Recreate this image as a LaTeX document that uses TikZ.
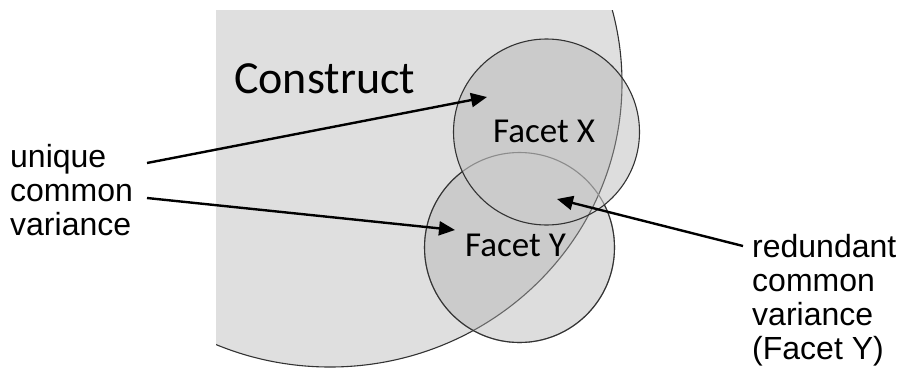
\documentclass[tikz,border=0pt]{standalone}
\usepackage{fontspec}
\setmainfont{Liberation Sans}
\newfontfamily\calib{Carlito}
\usetikzlibrary{arrows.meta}
\definecolor{constr}{HTML}{DFDFDF}
\definecolor{edge}{HTML}{333333}
\definecolor{faint}{HTML}{8C8C8C}
\definecolor{circfill}{HTML}{B0B0B0}
\begin{document}
\begin{tikzpicture}[x=1pt,y=-1pt,
  lbl/.style={font=\fontsize{32}{36}\selectfont, anchor=base west, inner sep=0pt},
  facet/.style={font=\calib\fontsize{35}{40}\selectfont, anchor=base west, inner sep=0pt},
  pointer/.style={line width=2.4pt, -{Triangle[length=16pt,width=14pt]}},
  outline/.style={draw=edge, line width=1.1pt}]
\useasboundingbox[fill=white] (0,0) rectangle (912,370);
\coordinate (cc) at (330,83);
\coordinate (cx) at (546.5,132);
\coordinate (cy) at (519.5,247.5);
% construct
\begin{scope}
  \clip (216,10) rectangle (912,370);
  \fill[constr] (cc) ellipse [x radius=292pt, y radius=284pt];
  \draw[outline] (cc) ellipse [x radius=292pt, y radius=284pt];
\end{scope}
% facets fill
\fill[circfill, opacity=0.42] (cx) circle[radius=93pt] (cy) circle[radius=95pt];
% facet Y outline (lighter inside X)
\draw[draw=faint, line width=1.1pt] (cy) circle[radius=95pt];
\begin{scope}[even odd rule]
  \clip (0,0) rectangle (912,370) (cx) circle[radius=93pt];
  \draw[outline] (cy) circle[radius=95pt];
\end{scope}
\draw[outline] (cx) circle[radius=93pt];
% labels
\node[font=\calib\fontsize{46}{50}\selectfont, anchor=base west, inner sep=0pt] (con) at (234,93) {Construct};
\node[facet] (lx) at (493,142) {Facet X};
\node[facet] (ly) at (465,256) {Facet Y};
\node[lbl] (u1) at (10,167) {unique};
\node[lbl] (u2) at (10,201) {common};
\node[lbl] (u3) at (10,235) {variance};
\node[lbl] (r1) at (752,257) {redundant};
\node[lbl] (r2) at (752,291) {common};
\node[lbl] (r3) at (752,325) {variance};
\node[lbl] (r4) at (752,359) {(Facet Y)};
% arrows
\coordinate (a1s) at (147,163);
\coordinate (a1e) at (487,97);
\coordinate (a2s) at (147,198);
\coordinate (a2e) at (455,230);
\coordinate (a3s) at (743,246);
\coordinate (a3e) at (557,199);
\draw[pointer] (a1s) -- (a1e);
\draw[pointer] (a2s) -- (a2e);
\draw[pointer] (a3s) -- (a3e);
\end{tikzpicture}
\end{document}
